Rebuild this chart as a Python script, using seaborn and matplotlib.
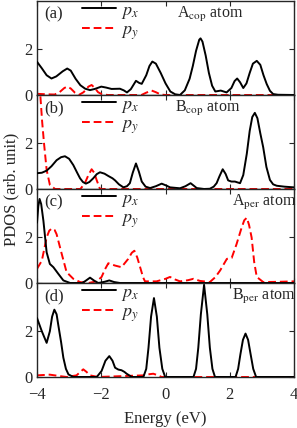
import matplotlib
matplotlib.use("Agg")
import matplotlib.pyplot as plt
import seaborn as sns

# energies (eV) and PDOS, one pair per curve
e_a_px = [-4.0, -3.85, -3.7, -3.55, -3.4, -3.2, -3.06, -2.95, -2.8, -2.65, -2.5, -2.35, -2.2, -2.0, -1.85,
          -1.68, -1.42, -1.3, -1.2, -1.08, -0.92, -0.82, -0.74, -0.6, -0.5, -0.41, -0.3, -0.15, 0.0, 0.15,
          0.3, 0.45, 0.6, 0.75, 0.85, 0.95, 1.05, 1.09, 1.15, 1.25, 1.35, 1.45, 1.55, 1.72, 1.9, 2.05,
          2.15, 2.23, 2.32, 2.42, 2.52, 2.62, 2.72, 2.84, 2.95, 3.05, 3.15, 3.25, 3.35, 3.5, 4.0]
pdos_a_px = [1.43, 1.15, 0.85, 0.71, 0.80, 1.02, 1.14, 1.05, 0.70, 0.42, 0.27, 0.21, 0.26, 0.36, 0.32,
             0.26, 0.27, 0.20, 0.11, 0.25, 0.61, 0.52, 0.48, 0.85, 1.25, 1.44, 1.35, 0.95, 0.50, 0.15,
             0.03, 0.0, 0.20, 0.70, 1.25, 1.90, 2.38, 2.44, 2.30, 1.70, 0.95, 0.40, 0.15, 0.19, 0.11, 0.30,
             0.60, 0.71, 0.55, 0.30, 0.50, 0.95, 1.35, 1.47, 1.30, 0.85, 0.47, 0.18, 0.04, 0.01, 0.0]
e_a_py = [-4.0, -3.7, -3.45, -3.3, -3.15, -3.06, -2.95, -2.82, -2.7, -2.55, -2.4, -2.3, -2.2, -2.1, -1.99,
          -1.8, -0.75, -0.6, -0.43, -0.3, -0.15, 0.0, 4.0]
pdos_a_py = [0.05, 0.03, 0.02, 0.12, 0.30, 0.36, 0.28, 0.10, 0.0, 0.12, 0.36, 0.43, 0.30, 0.12, 0.04,
             0.0, 0.0, 0.10, 0.19, 0.12, 0.02, 0.0, 0.0]

e_b_px = [-4.0, -3.85, -3.7, -3.55, -3.39, -3.25, -3.13, -3.0, -2.87, -2.75, -2.66, -2.57, -2.48, -2.37,
          -2.25, -2.14, -2.04, -1.9, -1.78, -1.65, -1.57, -1.45, -1.31, -1.2, -1.11, -1.02, -0.92, -0.83,
          -0.74, -0.62, -0.48, -0.3, -0.12, 0.02, 0.14, 0.45, 0.62, 0.78, 0.9, 0.97, 1.2, 1.38, 1.5, 1.59,
          1.68, 1.78, 1.87, 1.95, 2.05, 2.16, 2.25, 2.32, 2.42, 2.53, 2.62, 2.7, 2.78, 2.86, 2.95, 3.04,
          3.14, 3.25, 3.35, 3.46, 3.7, 4.0]
pdos_b_px = [0.68, 0.70, 0.79, 0.98, 1.24, 1.37, 1.41, 1.30, 1.03, 0.70, 0.46, 0.30, 0.23, 0.30,
             0.46, 0.64, 0.72, 0.66, 0.56, 0.46, 0.37, 0.20, 0.07, 0.12, 0.25, 0.70, 1.10, 0.75,
             0.32, 0.10, 0.04, 0.12, 0.23, 0.15, 0.07, 0.03, 0.12, 0.25, 0.12, 0.04, 0.0, 0.01, 0.10, 0.25,
             0.55, 0.85, 0.65, 0.37, 0.32, 0.32, 0.28, 0.25, 0.60, 1.52, 2.50, 3.10, 3.28, 3.05, 2.40, 1.80,
             0.95, 0.39, 0.20, 0.14, 0.10, 0.07]
e_b_py = [-4.0, -3.9, -3.84, -3.78, -3.7, -3.6, -3.44, -2.65, -2.51, -2.4, -2.3, -2.22, -2.14, -2.04, 4.0]
pdos_b_py = [6.5, 4.1, 2.9, 1.94, 0.82, 0.18, 0.0, 0.0, 0.25, 0.60, 0.85, 0.70, 0.37, 0.0, 0.0]

e_c_px = [-4.0, -3.96, -3.92, -3.87, -3.8, -3.7, -3.6, -3.49, -3.34, -3.18, -2.97, -2.6, -2.5, -2.35,
          -2.2, -2.09, -1.9, -1.75, -1.6, -1.42, 4.0]
pdos_c_px = [2.6, 3.3, 3.62, 3.4, 2.67, 1.32, 0.82, 0.68, 0.40, 0.11, 0.0, 0.0, 0.08, 0.23,
             0.08, 0.0, 0.05, 0.11, 0.04, 0.0, 0.0]
e_c_py = [-4.0, -3.85, -3.7, -3.62, -3.54, -3.45, -3.39, -3.23, -3.08, -2.87, -2.66, -2.4, -2.14, -1.99,
          -1.88, -1.78, -1.57, -1.37, -1.16, -1.05, -0.97, -0.88, -0.79, -0.7, -0.64, -0.28, 0.0, 0.14,
          0.3, 0.45, 0.7, 0.87, 1.07, 1.38, 1.55, 1.7, 1.91, 2.06, 2.21, 2.35, 2.45, 2.53, 2.6, 2.68,
          2.76, 2.84, 3.04, 3.5, 4.0]
pdos_c_py = [0.61, 0.96, 1.96, 2.25, 2.35, 2.28, 2.10, 1.25, 0.47, 0.18, 0.04, 0.0, 0.07, 0.26,
             0.60, 0.85, 0.75, 0.68, 1.04, 1.30, 1.39, 1.10, 0.68, 0.25, 0.07, 0.07, 0.18, 0.26,
             0.15, 0.07, 0.12, 0.18, 0.09, 0.04, 0.25, 0.54, 1.04, 1.08, 1.67, 2.30, 2.70, 2.81, 2.50, 1.96,
             0.90, 0.26, 0.04, 0.05, 0.07]

e_d_px = [-4.0, -3.85, -3.7, -3.6, -3.53, -3.46, -3.39, -3.34, -3.25, -3.18, -3.1, -3.02, -2.87, -2.14,
          -1.99, -1.87, -1.75, -1.65, -1.57, -1.47, -1.37, -1.28, -1.21, -1.05, -0.69, -0.6, -0.53, -0.45,
          -0.36, -0.27, -0.19, -0.1, -0.01, 0.87, 0.95, 1.02, 1.1, 1.2, 1.3, 1.38, 1.46, 1.54, 2.18, 2.26,
          2.33, 2.41, 2.49, 2.57, 2.65, 2.73, 2.82, 4.0]
pdos_d_px = [2.54, 1.97, 1.47, 1.97, 2.60, 2.90, 2.70, 2.26, 1.50, 0.83, 0.35, 0.11, 0.0, 0.0,
             0.26, 0.70, 0.90, 0.70, 0.40, 0.32, 0.29, 0.22, 0.14, 0.0, 0.0, 0.35, 1.26, 2.60,
             3.40, 2.60, 1.26, 0.35, 0.0, 0.0, 0.35, 1.26, 2.70, 3.97, 2.70, 1.26, 0.35, 0.0, 0.0, 0.35,
             0.97, 1.60, 1.87, 1.60, 0.97, 0.35, 0.0, 0.0]
e_d_py = [-4.0, -3.6, -3.3, -3.08, -2.77, -2.65, -2.56, -2.46, -2.35, -2.1, -0.69, -0.5, -0.38, -0.25,
          -0.12, 4.0]
pdos_d_py = [0.07, 0.10, 0.04, 0.0, 0.07, 0.22, 0.33, 0.22, 0.07, 0.0, 0.07, 0.12, 0.14, 0.08,
             0.0, 0.0]

panel_tags = ['(a)', '(b)', '(c)', '(d)']
atom_labels = [r'A$_{\rm cop}$ atom', r'B$_{\rm cop}$ atom', r'A$_{\rm per}$ atom', r'B$_{\rm per}$ atom']
atom_x = [0.545, 0.537, 0.76, 0.76]

sns.set_style('ticks')
plt.rcParams['font.family'] = ['Liberation Serif', 'DejaVu Serif']
plt.rcParams['mathtext.fontset'] = 'stix'
plt.rcParams['mathtext.rm'] = 'Liberation Serif'

fig, axes = plt.subplots(4, 1, figsize=(2.97, 4.28), dpi=100, sharex=True)
fig.subplots_adjust(left=0.1246, right=0.99, top=0.9977, bottom=0.1192, hspace=0)

series = [(e_a_px, pdos_a_px, e_a_py, pdos_a_py),
          (e_b_px, pdos_b_px, e_b_py, pdos_b_py),
          (e_c_px, pdos_c_px, e_c_py, pdos_c_py),
          (e_d_px, pdos_d_px, e_d_py, pdos_d_py)]

for i, ax in enumerate(axes):
    ex, px, ey, py = series[i]
    sns.lineplot(x=ey, y=py, ax=ax, color='red', lw=1.4, linestyle=(0, (4, 2)), estimator=None, zorder=2)
    sns.lineplot(x=ex, y=px, ax=ax, color='black', lw=1.4, estimator=None, zorder=3)
    ax.set_xlim(-4, 4)
    ax.set_ylim(0, 4.05)
    ax.set_yticks([0, 2])
    ax.set_xticks([-4, -2, 0, 2, 4])
    ax.tick_params(direction='in', top=True, right=True, length=3.5, width=0.8, labelsize=12, pad=3)
    ax.tick_params(axis='x', pad=7)
    for s in ax.spines.values():
        s.set_linewidth(1.0)
    ax.set_ylabel('')
    ax.text(0.03, 0.86, panel_tags[i], transform=ax.transAxes, fontsize=12, va='center', ha='left')
    ax.text(atom_x[i], 0.86, atom_labels[i], transform=ax.transAxes, fontsize=11.5, va='center', ha='left',
            clip_on=False)
    # legend built by hand to keep the two entries close together
    h1 = plt.Line2D([], [], color='black', lw=1.4)
    h2 = plt.Line2D([], [], color='red', lw=1.4, linestyle=(0, (4, 2)))
    ax.legend([h1, h2], [r'$p_x$', r'$p_y$'], loc='upper left', bbox_to_anchor=(0.16, 1.03),
              frameon=False, fontsize=13, handlelength=1.9, handletextpad=0.3, labelspacing=0.05,
              borderaxespad=0, borderpad=0.2)

axes[-1].set_xlabel('Energy (eV)', fontsize=12, labelpad=6)
fig.text(0.04, 1 - 189 / 428, 'PDOS (arb. unit)', rotation=90, fontsize=12, ha='center', va='center')

fig.savefig('out.png', dpi=100)
